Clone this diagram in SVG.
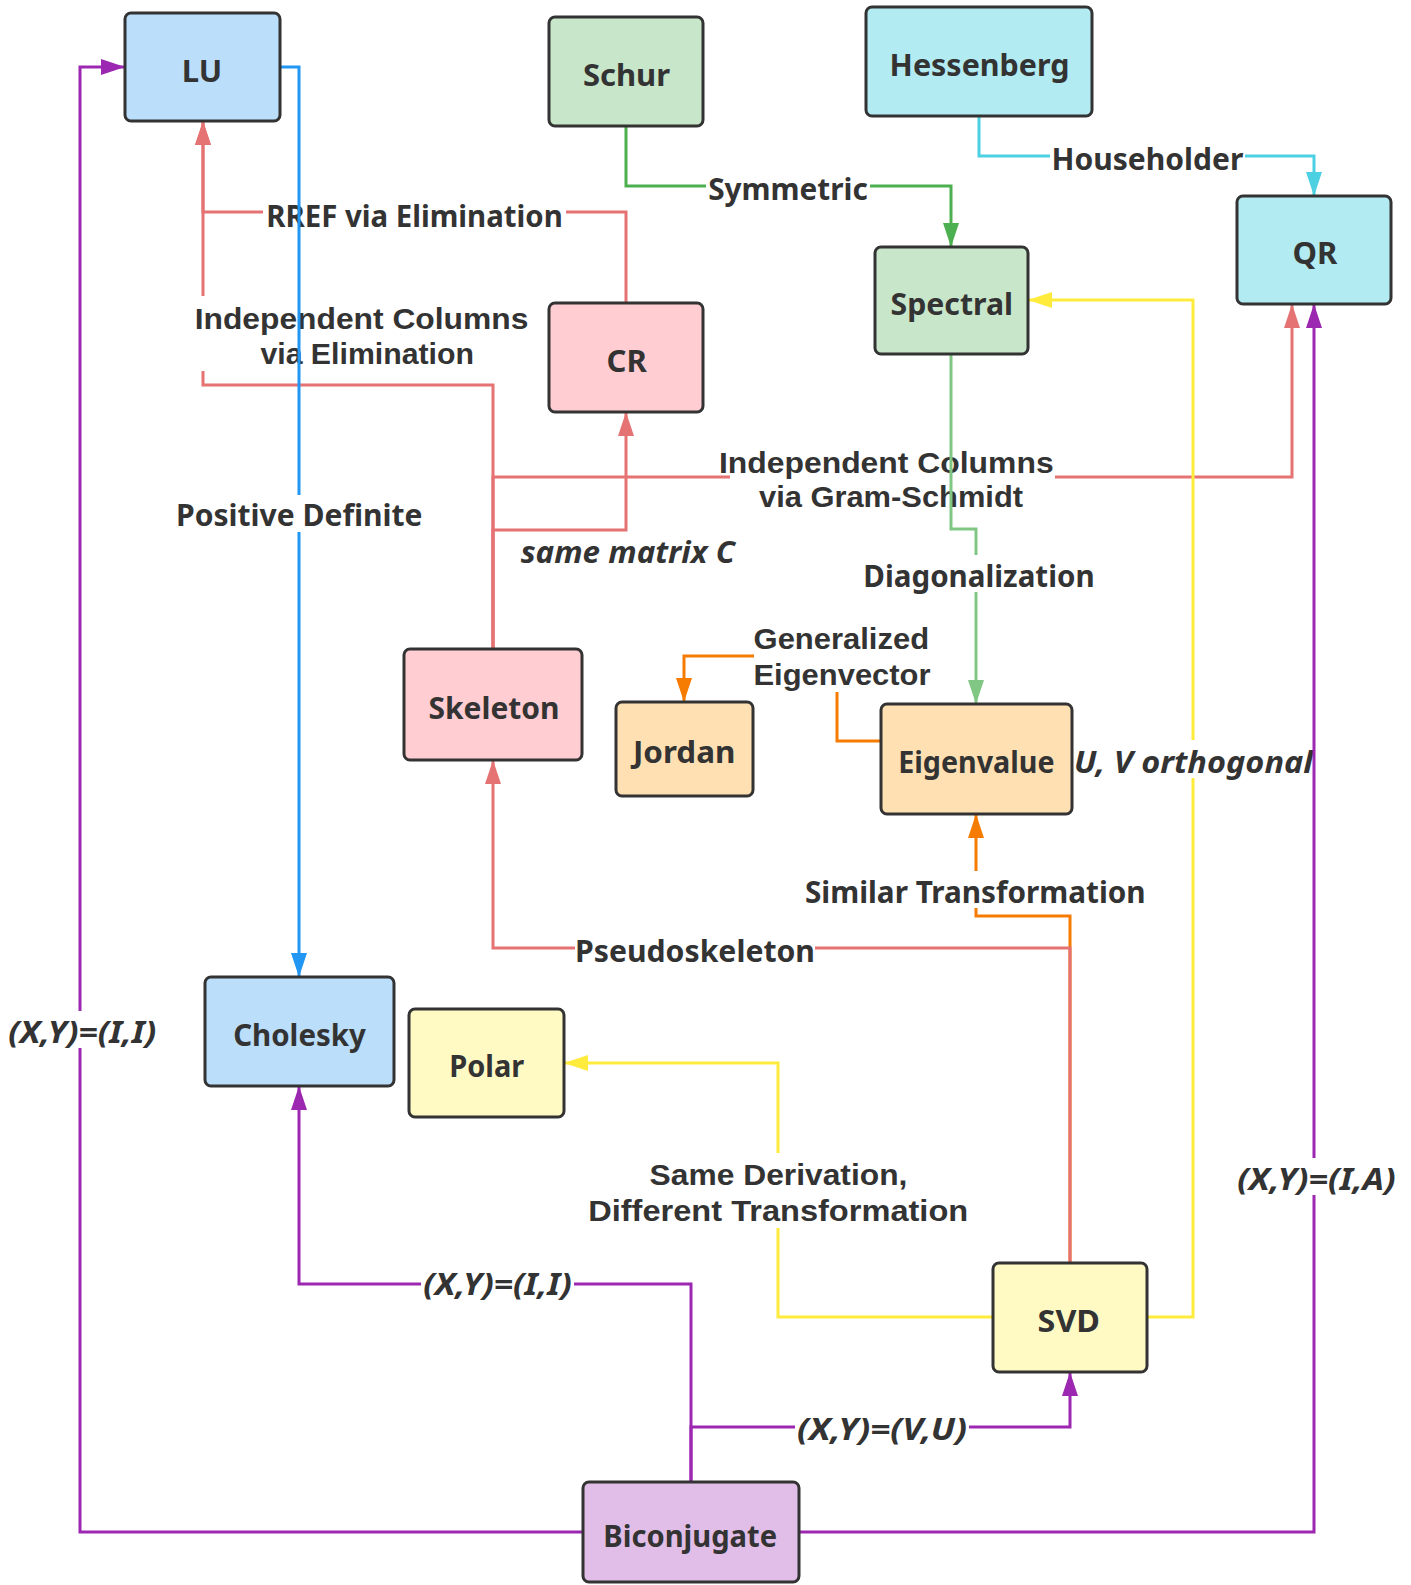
<svg xmlns="http://www.w3.org/2000/svg" width="1411" height="1585" viewBox="0 0 1411 1585">
<style>
.n rect{stroke:#333333;stroke-width:3}
.t{font-family:"Noto Sans","Open Sans","DejaVu Sans",sans-serif;font-weight:bold;font-size:31px;fill:#333333;text-anchor:middle}
.m{font-family:"Liberation Sans",Arial,sans-serif;font-size:30px}
.i{font-style:italic}
.e{fill:none;stroke-width:3}
.bg{fill:#ffffff}
</style>
<defs>
<marker id="aR" markerUnits="userSpaceOnUse" markerWidth="24" markerHeight="16" refX="23" refY="8" orient="auto"><path d="M0,0L24,8L0,16z" fill="#E57373"/></marker>
<marker id="aB" markerUnits="userSpaceOnUse" markerWidth="24" markerHeight="16" refX="23" refY="8" orient="auto"><path d="M0,0L24,8L0,16z" fill="#2196F3"/></marker>
<marker id="aG" markerUnits="userSpaceOnUse" markerWidth="24" markerHeight="16" refX="23" refY="8" orient="auto"><path d="M0,0L24,8L0,16z" fill="#4CAF50"/></marker>
<marker id="aC" markerUnits="userSpaceOnUse" markerWidth="24" markerHeight="16" refX="23" refY="8" orient="auto"><path d="M0,0L24,8L0,16z" fill="#4DD0E1"/></marker>
<marker id="aL" markerUnits="userSpaceOnUse" markerWidth="24" markerHeight="16" refX="23" refY="8" orient="auto"><path d="M0,0L24,8L0,16z" fill="#81C784"/></marker>
<marker id="aO" markerUnits="userSpaceOnUse" markerWidth="24" markerHeight="16" refX="23" refY="8" orient="auto"><path d="M0,0L24,8L0,16z" fill="#F57C00"/></marker>
<marker id="aY" markerUnits="userSpaceOnUse" markerWidth="24" markerHeight="16" refX="23" refY="8" orient="auto"><path d="M0,0L24,8L0,16z" fill="#FFEB3B"/></marker>
<marker id="aP" markerUnits="userSpaceOnUse" markerWidth="24" markerHeight="16" refX="23" refY="8" orient="auto"><path d="M0,0L24,8L0,16z" fill="#9C27B0"/></marker>
</defs>
<rect width="1411" height="1585" fill="#ffffff"/>
<g id="connectors">
  <g id="e-cr-lu">
    <path class="e" stroke="#E57373" d="M626,303V212H203V122" marker-end="url(#aR)"/>
    <rect class="bg" x="263" y="200" width="303" height="30"/>
    <text class="t" x="414.5" y="226.7" textLength="296.6" lengthAdjust="spacingAndGlyphs">RREF via Elimination</text>
  </g>
  <g id="e-skel-lu">
    <path class="e" stroke="#E57373" d="M493,649V385H203V122" marker-end="url(#aR)"/>
    <rect class="bg" x="190" y="296" width="343" height="75"/>
    <text class="t m"><tspan x="361.5" y="329.3" textLength="333.7" lengthAdjust="spacingAndGlyphs">Independent Columns</tspan><tspan x="367.2" y="364.3" textLength="213.6" lengthAdjust="spacingAndGlyphs">via Elimination</tspan></text>
  </g>
  <g id="e-skel-cr">
    <path class="e" stroke="#E57373" d="M493,649V530H626V413" marker-end="url(#aR)"/>
    <text class="t i" x="627.8" y="562.7" textLength="214.3" lengthAdjust="spacingAndGlyphs">same matrix C</text>
  </g>
  <g id="e-skel-qr">
    <path class="e" stroke="#E57373" d="M493,649V477H1292V305" marker-end="url(#aR)"/>
    <rect class="bg" x="730" y="446" width="325" height="66"/>
    <text class="t m"><tspan x="886.3" y="472.7" textLength="334.7" lengthAdjust="spacingAndGlyphs">Independent Columns</tspan><tspan x="891" y="507.3" textLength="264" lengthAdjust="spacingAndGlyphs">via Gram-Schmidt</tspan></text>
  </g>
  <g id="e-svd-eig">
    <path class="e" stroke="#F57C00" d="M1070,1263V916H976V815" marker-end="url(#aO)"/>
    <rect class="bg" x="803" y="871" width="345" height="37"/>
    <text class="t" x="975.3" y="903.3" textLength="340.7" lengthAdjust="spacingAndGlyphs">Similar Transformation</text>
  </g>
  <g id="e-svd-skel">
    <path class="e" stroke="#E57373" d="M1070,1263V948H493V761" marker-end="url(#aR)"/>
    <rect class="bg" x="575" y="934" width="240" height="30"/>
    <text class="t" x="695" y="961.7" textLength="240" lengthAdjust="spacingAndGlyphs">Pseudoskeleton</text>
  </g>
  <g id="e-lu-chol">
    <path class="e" stroke="#2196F3" d="M281,67H299V976" marker-end="url(#aB)"/>
    <rect class="bg" x="173" y="495" width="252" height="37"/>
    <text class="t" x="299.3" y="526" textLength="246.5" lengthAdjust="spacingAndGlyphs">Positive Definite</text>
  </g>
  <g id="e-schur-spec">
    <path class="e" stroke="#4CAF50" d="M626,126V186H951V246" marker-end="url(#aG)"/>
    <rect class="bg" x="706" y="172" width="164" height="30"/>
    <text class="t" x="788" y="199.5" textLength="159.6" lengthAdjust="spacingAndGlyphs">Symmetric</text>
  </g>
  <g id="e-hess-qr">
    <path class="e" stroke="#4DD0E1" d="M979,116V156H1314V195" marker-end="url(#aC)"/>
    <rect class="bg" x="1050" y="143" width="195" height="30"/>
    <text class="t" x="1147.4" y="170" textLength="191.8" lengthAdjust="spacingAndGlyphs">Householder</text>
  </g>
  <g id="e-spec-eig">
    <path class="e" stroke="#81C784" d="M951,354V529H976V703" marker-end="url(#aL)"/>
    <rect class="bg" x="860" y="555" width="237" height="37"/>
    <text class="t" x="979" y="586.7" textLength="231.3" lengthAdjust="spacingAndGlyphs">Diagonalization</text>
  </g>
  <g id="e-eig-jordan">
    <path class="e" stroke="#F57C00" d="M881,741H837V656H684V701" marker-end="url(#aO)"/>
    <rect class="bg" x="754" y="620" width="177" height="72"/>
    <text class="t m"><tspan x="841.3" y="649.3" textLength="175.5" lengthAdjust="spacingAndGlyphs">Generalized</tspan><tspan x="842" y="685" textLength="177" lengthAdjust="spacingAndGlyphs">Eigenvector</tspan></text>
  </g>
  <g id="e-svd-polar">
    <path class="e" stroke="#FFEB3B" d="M993,1317H778V1063H565" marker-end="url(#aY)"/>
    <rect class="bg" x="585" y="1153" width="386" height="75"/>
    <text class="t m"><tspan x="778.5" y="1185" textLength="257.8" lengthAdjust="spacingAndGlyphs">Same Derivation,</tspan><tspan x="778.2" y="1220.7" textLength="380" lengthAdjust="spacingAndGlyphs">Different Transformation</tspan></text>
  </g>
  <g id="e-svd-spec">
    <path class="e" stroke="#FFEB3B" d="M1147,1317H1193V300H1029" marker-end="url(#aY)"/>
    <rect class="bg" x="1072" y="740" width="240" height="38"/>
    <text class="t i" x="1193.5" y="772.7" textLength="239" lengthAdjust="spacingAndGlyphs">U, V orthogonal</text>
  </g>
  <g id="e-bic-lu">
    <path class="e" stroke="#9C27B0" d="M583,1532H80V67H124" marker-end="url(#aP)"/>
    <rect class="bg" x="6" y="1011" width="152" height="37"/>
    <text class="t i" x="82.2" y="1043" textLength="148" lengthAdjust="spacingAndGlyphs">(X,Y)=(I,I)</text>
  </g>
  <g id="e-bic-qr">
    <path class="e" stroke="#9C27B0" d="M799,1532H1314V305" marker-end="url(#aP)"/>
    <rect class="bg" x="1235" y="1158" width="163" height="37"/>
    <text class="t i" x="1316.5" y="1190" textLength="158.5" lengthAdjust="spacingAndGlyphs">(X,Y)=(I,A)</text>
  </g>
  <g id="e-bic-chol">
    <path class="e" stroke="#9C27B0" d="M691,1482V1284H299V1087" marker-end="url(#aP)"/>
    <rect class="bg" x="421" y="1270" width="153" height="30"/>
    <text class="t i" x="497.5" y="1295" textLength="148.4" lengthAdjust="spacingAndGlyphs">(X,Y)=(I,I)</text>
  </g>
  <g id="e-bic-svd">
    <path class="e" stroke="#9C27B0" d="M691,1482V1427H1070V1373" marker-end="url(#aP)"/>
    <rect class="bg" x="795" y="1414" width="174" height="32"/>
    <text class="t i" x="882" y="1440" textLength="170" lengthAdjust="spacingAndGlyphs">(X,Y)=(V,U)</text>
  </g>
</g>
<g id="LU" class="n"><rect x="125" y="13" width="155" height="108" rx="6" fill="#BBDEFB"/><text class="t" x="202" y="82">LU</text></g>
<g id="Schur" class="n"><rect x="549" y="17" width="154" height="109" rx="6" fill="#C8E6C9"/><text class="t" x="626.5" y="86">Schur</text></g>
<g id="Hessenberg" class="n"><rect x="866" y="7" width="226" height="109" rx="6" fill="#B2EBF2"/><text class="t" x="979.6" y="76" textLength="180" lengthAdjust="spacingAndGlyphs">Hessenberg</text></g>
<g id="QR" class="n"><rect x="1237" y="196" width="154" height="108" rx="6" fill="#B2EBF2"/><text class="t" x="1315" y="264">QR</text></g>
<g id="Spectral" class="n"><rect x="875" y="247" width="153" height="107" rx="6" fill="#C8E6C9"/><text class="t" x="951.8" y="315" textLength="122.5" lengthAdjust="spacingAndGlyphs">Spectral</text></g>
<g id="CR" class="n"><rect x="549" y="303" width="154" height="109" rx="6" fill="#FFCDD2"/><text class="t" x="626.7" y="371.7">CR</text></g>
<g id="Skeleton" class="n"><rect x="404" y="649" width="178" height="111" rx="6" fill="#FFCDD2"/><text class="t" x="494" y="719" textLength="131" lengthAdjust="spacingAndGlyphs">Skeleton</text></g>
<g id="Jordan" class="n"><rect x="616" y="702" width="137" height="94" rx="6" fill="#FFE0B2"/><text class="t" x="684.2" y="763" textLength="102.5" lengthAdjust="spacingAndGlyphs">Jordan</text></g>
<g id="Eigenvalue" class="n"><rect x="881" y="704" width="191" height="110" rx="6" fill="#FFE0B2"/><text class="t" x="976.4" y="773.3" textLength="156.4" lengthAdjust="spacingAndGlyphs">Eigenvalue</text></g>
<g id="Cholesky" class="n"><rect x="205" y="977" width="189" height="109" rx="6" fill="#BBDEFB"/><text class="t" x="299.5" y="1046" textLength="132.7" lengthAdjust="spacingAndGlyphs">Cholesky</text></g>
<g id="Polar" class="n"><rect x="409" y="1009" width="155" height="108" rx="6" fill="#FFF9C4"/><text class="t" x="486.7" y="1077.3" textLength="75" lengthAdjust="spacingAndGlyphs">Polar</text></g>
<g id="SVD" class="n"><rect x="993" y="1263" width="154" height="109" rx="6" fill="#FFF9C4"/><text class="t" x="1068.8" y="1331.7" textLength="62.4" lengthAdjust="spacingAndGlyphs">SVD</text></g>
<g id="Biconjugate" class="n"><rect x="583" y="1482" width="216" height="100" rx="6" fill="#E1BEE7"/><text class="t" x="690.2" y="1546.7" textLength="173.7" lengthAdjust="spacingAndGlyphs">Biconjugate</text></g>
</svg>
